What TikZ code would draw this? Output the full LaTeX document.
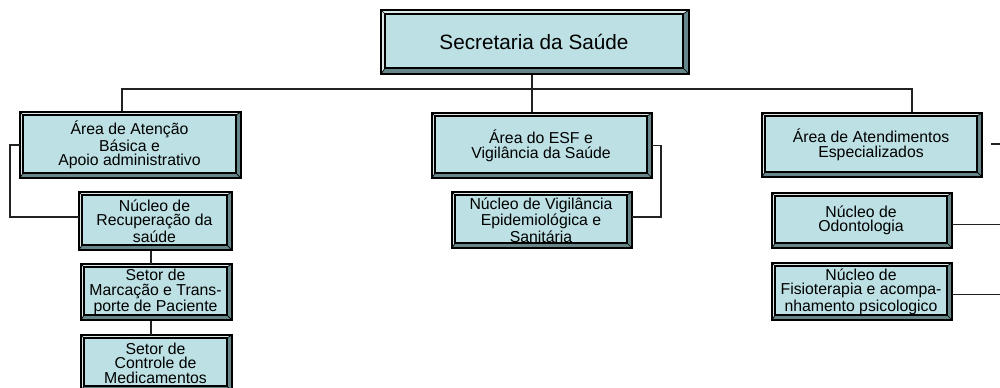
\documentclass[tikz,border=0pt]{standalone}
\usepackage{fontspec}
\setmainfont{Liberation Sans}
\definecolor{boxfill}{HTML}{BCE0E3}
\definecolor{bevlight}{HTML}{DCE7E7}
\definecolor{bevdark}{HTML}{66868A}
\definecolor{linec}{HTML}{222222}
\tikzset{
  txt/.style={inner sep=0pt, align=center, font=\fontsize{9}{8.3}\selectfont},
  bigtxt/.style={inner sep=0pt, align=center, font=\fontsize{11.8}{13}\selectfont},
  conn/.style={draw=linec, line width=0.6pt},
  outline/.style={draw=black, line width=0.6pt},
}
% #1 name, #2 cx, #3 cy, #4 w, #5 h, #6 bevel, #7 style, #8 text
\newcommand\bevbox[8]{%
  \pgfmathsetmacro\xa{#2-#4/2}\pgfmathsetmacro\xb{#2+#4/2}%
  \pgfmathsetmacro\ya{#3-#5/2}\pgfmathsetmacro\yb{#3+#5/2}%
  \pgfmathsetmacro\bl{#6}\pgfmathsetmacro\br{#6+2}%
  \fill[bevlight] (\xa,\ya) rectangle (\xb,\yb);
  \fill[bevdark] (\xa,\yb) -- (\xb,\yb) -- (\xb,\ya) -- (\xb-\br,\ya+\bl) -- (\xb-\br,\yb-\br) -- (\xa+\bl,\yb-\br) -- cycle;
  \draw[line width=0.4pt] (\xa,\ya) -- (\xa+\bl,\ya+\bl) (\xb,\yb) -- (\xb-\br,\yb-\br) (\xa,\yb) -- (\xa+\bl,\yb-\br) (\xb,\ya) -- (\xb-\br,\ya+\bl);
  \draw[outline] (\xa,\ya) rectangle (\xb,\yb);
  \filldraw[fill=boxfill, outline] (\xa+\bl,\ya+\bl) rectangle (\xb-\br,\yb-\br);
  \node[#7, minimum width=#4*0.02cm, minimum height=#5*0.02cm] (#1) at (#2-1,#3) {#8};
}
\begin{document}
\begin{tikzpicture}[x=0.02cm, y=-0.02cm]
\clip (0,0) rectangle (1000,387);
\fill[white] (0,0) rectangle (1000,387);
% coordinates of the bus
\coordinate (busL) at (122,89);
\coordinate (busM) at (532,89);
\coordinate (busR) at (912,89);
\coordinate (colL) at (151,0);
\coordinate (loopL) at (10,0);
\coordinate (loopM) at (661,0);
\coordinate (edge) at (1000,0);
\coordinate (stub) at (991,144);

% connectors first (drawn under boxes)
\draw[conn] (busL |- 0,112) -- (busL) -- (busR) -- (busR |- 0,113);
\draw[conn] (busM |- 0,74) -- (busM |- 0,113);

\bevbox{top}{535}{42}{308}{64}{4}{bigtxt}{Secretaria da Saúde}
\bevbox{a1}{130.5}{145}{221}{66}{3}{txt}{Área de Atenção\\Básica e\\Apoio administrativo}
\bevbox{n1}{155.5}{221}{153}{58}{3}{txt}{Núcleo de\\Recuperação da\\saúde}
\bevbox{s1}{156.5}{292}{151}{56}{3}{txt}{Setor de\\Marcação e Trans-\\porte de Paciente}
\bevbox{s2}{156.5}{363}{151}{56}{3}{txt}{Setor de\\Controle de\\Medicamentos}
\bevbox{a2}{542}{145.5}{220}{65}{3}{txt}{Área do ESF e\\Vigilância da Saúde}
\bevbox{v1}{542}{220}{180}{56}{3}{txt}{Núcleo de Vigilância\\Epidemiológica e\\Sanitária}
\bevbox{a3}{872}{145}{220}{64}{3}{txt}{Área de Atendimentos\\Especializados}
\bevbox{o1}{862}{220.5}{180}{55}{3}{txt}{Núcleo de\\Odontologia}
\bevbox{f1}{862}{291.5}{180}{57}{3}{txt}{Núcleo de\\Fisioterapia e acompa-\\nhamento psicologico}

% side connectors
\draw[conn] ([xshift=0.02cm]a1.west) -- (a1.west -| loopL) |- ([xshift=0.02cm,yshift=0.08cm]n1.west);
\draw[conn] ([yshift=-0.02cm]n1.south -| colL) -- (s1.north -| colL);
\draw[conn] ([yshift=-0.02cm]s1.south -| colL) -- (s2.north -| colL);
\draw[conn] ([xshift=0.02cm]a2.east) -- (a2.east -| loopM) |- ([xshift=0.02cm,yshift=0.06cm]v1.east);
\draw[conn] (stub) -- (stub -| edge);
\draw[conn] ([xshift=0.02cm,yshift=-0.08cm]o1.east) -- ([yshift=-0.08cm]o1.east -| edge);
\draw[conn] ([xshift=0.02cm,yshift=-0.06cm]f1.east) -- ([yshift=-0.06cm]f1.east -| edge);
\end{tikzpicture}
\end{document}
